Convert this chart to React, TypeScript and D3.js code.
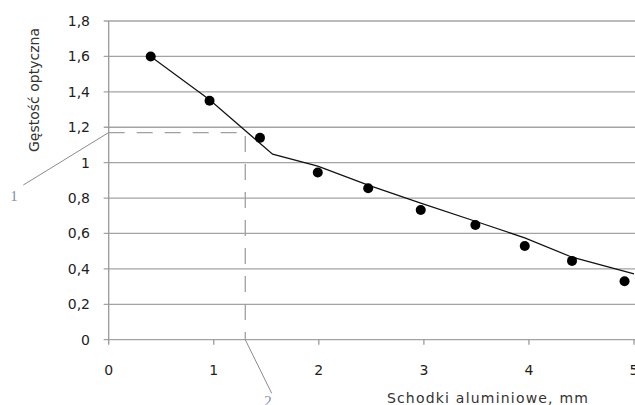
import { useRef, useEffect } from 'react'
import * as d3 from 'd3'

// measured points (aluminium step thickness, mm -> optical density)
const stepX = [0.4, 0.96, 1.44, 1.99, 2.47, 2.97, 3.49, 3.96, 4.41, 4.91]
const density = [1.6, 1.35, 1.14, 0.944, 0.855, 0.733, 0.648, 0.529, 0.445, 0.33]

// fitted curve drawn through the points
const curveX = [0.4, 0.96, 1.56, 1.99, 2.47, 2.97, 3.49, 3.96, 4.41, 5.0]
const curveY = [1.6, 1.355, 1.048, 0.98, 0.873, 0.771, 0.669, 0.575, 0.466, 0.372]

const xTicks = [0, 1, 2, 3, 4, 5]
const yTicks = [0, 0.2, 0.4, 0.6, 0.8, 1, 1.2, 1.4, 1.6, 1.8]

// reading marked with dashed lines
const readX = 1.3
const readY = 1.17

const xTitle = 'Schodki aluminiowe, mm'
const yTitle = 'Gęstość optyczna'

const App = () => {
  const ref = useRef(null)

  useEffect(() => {
    const totalWidth = 635,
      totalHeight = 405,
      margin = { left: 108.7, top: 21, right: 1, bottom: 65.3 },
      width = totalWidth - margin.left - margin.right,
      height = totalHeight - margin.top - margin.bottom

    const svg = d3.select(ref.current)
    svg.attr('width', totalWidth).attr('height', totalHeight)
    svg.selectAll('*').remove()

    const x = d3.scaleLinear().domain([0, 5]).range([0, width])
    const y = d3.scaleLinear().domain([0, 1.8]).range([height, 0])
    const fmt = (d) => String(+d.toFixed(1)).replace('.', ',')

    const plot = svg.append('g')
      .attr('transform', `translate(${margin.left}, ${margin.top})`)

    // GRIDLINES
    plot.append('g').selectAll('line')
      .data(yTicks)
      .enter()
      .append('line')
        .attr('x1', -5)
        .attr('x2', width + 2)
        .attr('y1', d => y(d))
        .attr('y2', d => y(d))
        .attr('stroke', '#a3a3a3')
        .attr('stroke-width', 1.3)

    // AXES
    plot.append('line')
      .attr('x1', 0).attr('x2', 0)
      .attr('y1', 0).attr('y2', height)
      .attr('stroke', '#999')
      .attr('stroke-width', 1.3)

    plot.append('g').selectAll('line')
      .data(xTicks)
      .enter()
      .append('line')
        .attr('x1', d => x(d))
        .attr('x2', d => x(d))
        .attr('y1', height)
        .attr('y2', height + 5)
        .attr('stroke', '#999')
        .attr('stroke-width', 1.3)

    plot.append('g').selectAll('text')
      .data(yTicks)
      .enter()
      .append('text')
        .attr('x', -18.7)
        .attr('y', d => y(d) + 5)
        .attr('text-anchor', 'end')
        .attr('font-family', 'DejaVu Sans')
        .attr('font-size', 14)
        .attr('fill', '#1e1e1e')
        .text(fmt)

    plot.append('g').selectAll('text')
      .data(xTicks)
      .enter()
      .append('text')
        .attr('x', d => x(d))
        .attr('y', height + 35)
        .attr('text-anchor', 'middle')
        .attr('font-family', 'DejaVu Sans')
        .attr('font-size', 14)
        .attr('fill', '#1e1e1e')
        .text(fmt)

    // DASHED READING LINES
    plot.append('path')
      .attr('d', `M0,${y(readY)}H${x(readX)}V${height}`)
      .attr('fill', 'none')
      .attr('stroke', '#a0a0a0')
      .attr('stroke-width', 1.3)
      .attr('stroke-dasharray', '16 12')

    // CURVE
    plot.append('path')
      .datum(curveX.map((d, i) => [d, curveY[i]]))
      .attr('fill', 'none')
      .attr('stroke', '#111')
      .attr('stroke-width', 1.2)
      .attr('d', d3.line()
        .x(d => x(d[0]))
        .y(d => y(d[1])))

    // POINTS
    plot.append('g').selectAll('circle')
      .data(stepX.map((d, i) => [d, density[i]]))
      .enter()
      .append('circle')
        .attr('cx', d => x(d[0]))
        .attr('cy', d => y(d[1]))
        .attr('r', 5)
        .attr('fill', '#000')

    // TITLES
    svg.append('text')
      .attr('x', 488)
      .attr('y', 403)
      .attr('text-anchor', 'middle')
      .attr('font-family', 'DejaVu Sans')
      .attr('font-size', 14)
      .attr('letter-spacing', 1.2)
      .attr('fill', '#333')
      .text(xTitle)

    svg.append('text')
      .attr('transform', 'translate(38.5, 90) rotate(-90)')
      .attr('text-anchor', 'middle')
      .attr('font-family', 'DejaVu Sans')
      .attr('font-size', 14)
      .attr('fill', '#333')
      .text(yTitle)

    // LEADER LABELS
    svg.append('line')
      .attr('x1', 23.3).attr('y1', 185)
      .attr('x2', margin.left).attr('y2', margin.top + y(readY))
      .attr('stroke', '#8c8c8c')
      .attr('stroke-width', 1)
    svg.append('line')
      .attr('x1', margin.left + x(readX)).attr('y1', margin.top + height)
      .attr('x2', 271.7).attr('y2', 393.3)
      .attr('stroke', '#8c8c8c')
      .attr('stroke-width', 1)

    svg.append('text')
      .attr('x', 14).attr('y', 201)
      .attr('text-anchor', 'middle')
      .attr('font-family', 'Liberation Serif')
      .attr('font-size', 15)
      .attr('fill', '#7f8fa6')
      .text('1')
    svg.append('text')
      .attr('x', 268).attr('y', 406)
      .attr('text-anchor', 'middle')
      .attr('font-family', 'Liberation Serif')
      .attr('font-size', 15)
      .attr('fill', '#7f8fa6')
      .text('2')
  }, [])

  return (
    <svg ref={ ref } style={ { position: 'absolute', left: 0, top: 0, background: '#fff' } }></svg>
  )
}

export default App
